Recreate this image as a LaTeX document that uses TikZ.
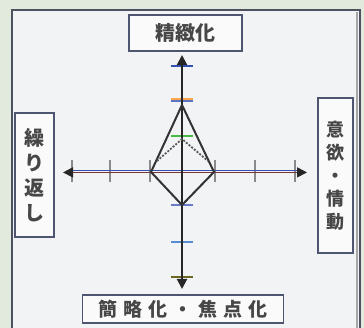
\documentclass[tikz,border=0pt]{standalone}
\usepackage{fontspec}
\setmainfont{Noto Sans CJK JP}
\usetikzlibrary{arrows.meta,positioning}
\definecolor{bggreen}{HTML}{E1EADC}
\definecolor{panel}{HTML}{F2F3F5}
\definecolor{framegray}{HTML}{4C5260}
\definecolor{boxline}{HTML}{4E5570}
\definecolor{axisred}{HTML}{7A3535}
\definecolor{axisblue}{HTML}{3450B0}
\definecolor{tickgray}{HTML}{8A8A8A}

\tikzset{
  labelbox/.style={draw=boxline, line width=1.2pt, fill=white!96!gray,
    inner sep=0pt, align=center, text=black!72},
  axisline/.style={line width=2pt, black!85},
  vtick/.style={line width=2pt},
  htick/.style={line width=1.6pt, tickgray},
  shape line/.style={line width=2pt, black!80, line join=round},
}

\begin{document}
\begin{tikzpicture}[x=1pt,y=-1pt,
    >={Triangle[length=10pt,width=10pt,color=black!85]}]
    \useasboundingbox (0,0) rectangle (364,328);
    % ground and frame
    \fill[bggreen] (0,0) rectangle (364,328);
    \fill[panel] (12,10) rectangle (360,340);
    \draw[framegray, line width=1.4pt] (12,340) -- (12,10) -- (360,10) -- (360,340);
    \draw[black!35, line width=1.5pt] (357,12) -- (357,340);

    % axes
    \coordinate (o)   at (182,172);
    \coordinate (up)  at (182,55);
    \coordinate (dn)  at (182,289);
    \coordinate (lft) at (63,172);
    \coordinate (rgt) at (307,172);

    % ticks on the horizontal axis
    \foreach \d in {-110,-72,-32,33,73,113}
        \draw[htick] ([shift={(\d,-12)}]o) -- ([shift={(\d,10)}]o);

    \draw[axisblue, line width=1.6pt, shorten <=8pt, shorten >=8pt]
        ([yshift=1.4]lft) -- ([yshift=1.4]rgt);
    \draw[axisred, line width=1.6pt, <->]
        ([yshift=-0.4]lft) -- ([yshift=-0.4]rgt);

    % ticks on the vertical axis
    \draw[vtick, axisblue]       ([shift={(-11,-106)}]o) -- ([shift={(11,-106)}]o);
    \draw[vtick, orange!70]      ([shift={(-11,-73)}]o) -- ([shift={(11,-73)}]o);
    \draw[vtick, axisblue!80]    ([shift={(-11,-71)}]o) -- ([shift={(11,-71)}]o);
    \draw[vtick, green!45!gray]  ([shift={(-11,-36)}]o) -- ([shift={(11,-36)}]o);
    \draw[vtick, axisblue!75]    ([shift={(-11,33)}]o) -- ([shift={(11,33)}]o);
    \draw[vtick, cyan!50!blue!70]([shift={(-11,70)}]o) -- ([shift={(11,70)}]o);
    \draw[vtick, olive!70!black] ([shift={(-11,105)}]o) -- ([shift={(11,105)}]o);

    \draw[axisline, <->] (dn) -- (up);

    % the figure on the axes
    \coordinate (ptop) at (182,105);
    \coordinate (pl)   at (151,172);
    \coordinate (pb)   at (182,205);
    \coordinate (pr)   at (214,172);
    \coordinate (dl)   at (157,161);
    \coordinate (dt)   at (182,139);
    \coordinate (dr)   at (208,161);
    \draw[shape line] (ptop) -- (pl) -- (pb) -- (pr) -- cycle;
    \draw[black!65, line width=1.8pt, dash pattern=on 2pt off 1.5pt] (dl) -- (dt) -- (dr);

    % labels
    \node[labelbox, minimum width=113pt, minimum height=36pt,
          font=\fontsize{20}{24}\selectfont\bfseries] (refine) at (185.5,33) {精緻化};
    \node[labelbox, minimum width=201pt, minimum height=28pt,
          font=\fontsize{19}{24}\selectfont\bfseries] (simplify) at (183,309)
        {簡\hspace{6pt}略\hspace{6pt}化\hspace{6pt}・\hspace{6pt}焦\hspace{6pt}点\hspace{6pt}化};
    \node[labelbox, minimum width=39pt, minimum height=124pt,
          font=\fontsize{20}{25}\selectfont\bfseries] (repeat) at (34.5,175) {繰\\り\\返\\し};
    \node[labelbox, minimum width=35pt, minimum height=155pt,
          font=\fontsize{18}{23}\selectfont\bfseries] (emotion) at (335.5,175.5) {意\\欲\\・\\情\\動};
\end{tikzpicture}
\end{document}
